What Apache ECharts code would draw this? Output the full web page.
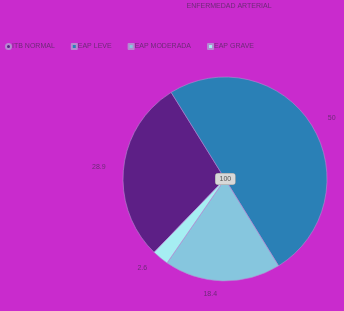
<!DOCTYPE html>
<html>
<head>
<meta charset="utf-8">
<script src="https://cdn.jsdelivr.net/npm/echarts@6/dist/echarts.min.js"></script>
<style>
  html, body { margin: 0; padding: 0; background: #c92bcd; }
  #chart { width: 344px; height: 311px; }
</style>
</head>
<body>
<div id="chart"></div>
<script>
// datos
const categories = ['ITB NORMAL', 'EAP LEVE', 'EAP MODERADA', 'EAP GRAVE'];
const values = [28.9, 50, 18.4, 2.6];
const colors = ['#5d1f86', '#2a80b6', '#86c6de', '#a6eef2'];

const TXT = '#6e2a78';
const total = Math.round(values.reduce((a, b) => a + b, 0));

const chart = echarts.init(document.getElementById('chart'));

const option = {
  backgroundColor: '#c92bcd',
  animation: false,
  title: {
    text: 'ENFERMEDAD ARTERIAL',
    left: 224,
    textAlign: 'center',
    top: 0,
    padding: [3, 5],
    textStyle: { color: TXT, fontSize: 7, fontWeight: 'normal', fontFamily: 'Liberation Sans' },
  },
  legend: {
    top: 38,
    left: 0,
    itemWidth: 5,
    itemHeight: 5,
    itemGap: 16,
    icon: 'rect',
    data: categories.map((name, i) => (i === 0 ? { name, icon: 'circle' } : { name })),
    textStyle: { color: TXT, fontSize: 7, fontFamily: 'Liberation Sans', padding: [0, 0, 0, -4] },
  },
  graphic: [
    {
      type: 'text',
      left: 215,
      top: 173,
      z: 100,
      style: {
        text: String(total),
        fill: '#555',
        font: '7px Liberation Sans',
        backgroundColor: '#d8d8d8',
        borderColor: '#999',
        borderWidth: 0.5,
        borderRadius: 2,
        padding: [2, 4],
      },
    },
  ],
  series: [
    {
      type: 'pie',
      center: [225, 179],
      radius: 102,
      startAngle: 226,
      clockwise: true,
      data: categories.map((name, i) => ({
        name,
        value: values[i],
        itemStyle: { color: colors[i] },
      })),
      itemStyle: { borderColor: '#b58ad0', borderWidth: 0.6 },
      label: {
        show: true,
        position: 'outside',
        formatter: '{c}',
        color: TXT,
        fontSize: 7,
        fontFamily: 'Liberation Sans',
        overflow: 'none',
        edgeDistance: 2,
      },
      labelLine: { show: false, length: 13, length2: 0 },
      emphasis: { disabled: true },
    },
  ],
};

chart.setOption(option);
</script>
</body>
</html>
